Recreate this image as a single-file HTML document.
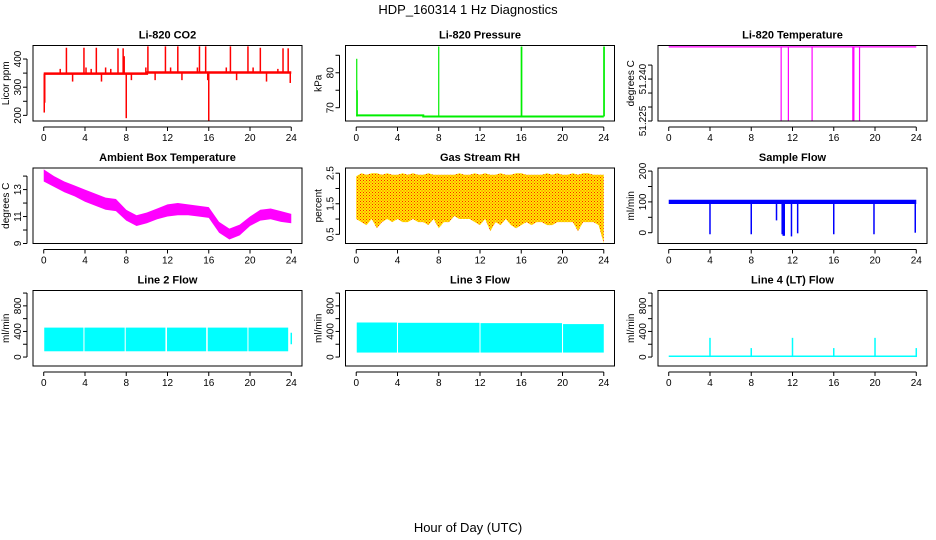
<!DOCTYPE html>
<html><head><meta charset="utf-8"><style>
html,body{margin:0;padding:0;background:#fff;}
svg{display:block;font-family:"Liberation Sans",Arial,sans-serif;}
</style></head><body>
<svg id="chart" width="936" height="540" viewBox="0 0 936 540">
<defs>
<pattern id="rhpat" width="3" height="3" patternUnits="userSpaceOnUse">
<rect width="3" height="3" fill="#ffe800"/><rect width="1" height="1" fill="#ff2000"/><rect x="1.5" y="1.5" width="1" height="1" fill="#ff4000"/>
</pattern>
</defs>
<text x="468" y="14" text-anchor="middle" font-size="13">HDP_160314  1 Hz Diagnostics</text>
<text x="468" y="532" text-anchor="middle" font-size="13">Hour of Day (UTC)</text>
</svg>
<script>
// ---- data ----
const xTicks = [0,4,8,12,16,20,24];
const co2BaseHours = [0,10,10,24];
const co2BaseValues = [348,348,352,352];
const co2SpikeHours = [0.05,0.1,1.6,2.2,2.8,3.9,4.1,4.6,5.1,5.6,6,6.5,7.2,7.7,7.8,8,8.5,9.9,10.1,10.8,11.8,12.3,13,13.4,14.9,15.1,15.7,15.9,16,16.5,17.7,18.1,18.7,19.8,20.3,21,21.6,22.7,23.2,23.7,23.9];
const co2SpikeValues = [210,245,365,440,320,440,370,365,440,320,370,365,438,438,410,190,325,370,445,325,445,370,445,325,370,445,445,325,180,350,370,445,325,445,370,440,320,365,438,438,315];
const presBaseHours = [0,6.5,6.5,24];
const presBaseValues = [67.8,67.8,67.5,67.5];
const presSpikeHours = [0.05,0.1,8,16,16.05,24,24.05];
const presSpikeValues = [84,75,87.5,87.5,87.5,87.5,87.5];
const tempLevel = 51.2515;
const tempDropHours = [10.9,11.6,13.9,17.85,17.95,18.5];
const tempDropValues = [51.225,51.225,51.225,51.225,51.225,51.225];
const ambHours = [0,1,2,3,4,5,6,7,8,9,10,11,12,13,14,15,16,17,18,19,20,21,22,23,24];
const ambLo = [13.6,13.2,12.8,12.5,12.1,11.8,11.5,11.4,10.7,10.3,10.5,10.8,11.0,11.1,11.1,11.0,10.9,9.8,9.3,9.6,10.3,10.7,10.8,10.6,10.5];
const ambHi = [14.5,14.0,13.6,13.3,13.0,12.7,12.4,12.3,11.5,11.1,11.3,11.6,11.9,12.0,11.9,11.8,11.7,10.6,10.1,10.4,11.0,11.5,11.6,11.4,11.2];
const rhHours = [0,0.5,1,1.5,2,2.5,3,3.5,4,4.5,5,5.5,6,6.5,7,7.5,8,8.5,9,9.5,10,10.5,11,11.5,12,12.5,13,13.5,14,14.5,15,15.5,16,16.5,17,17.5,18,18.5,19,19.5,20,20.5,21,21.5,22,22.5,23,23.5,24];
const rhLo = [1.0,0.9,0.8,1.0,0.7,0.9,1.0,0.9,1.0,0.9,0.9,1.0,0.9,0.9,0.8,1.0,0.7,0.9,0.9,1.1,1.0,1.0,1.0,0.9,0.8,1.0,0.6,0.9,0.8,1.0,0.8,0.7,0.8,0.9,0.8,0.9,0.9,0.8,0.8,0.9,0.9,0.9,0.9,0.6,0.9,0.9,0.9,0.8,0.2];
const rhHi = [2.4,2.5,2.45,2.5,2.5,2.45,2.5,2.45,2.45,2.5,2.45,2.5,2.45,2.45,2.5,2.45,2.45,2.45,2.45,2.45,2.5,2.45,2.45,2.5,2.45,2.5,2.45,2.45,2.5,2.45,2.45,2.5,2.5,2.45,2.45,2.45,2.45,2.5,2.45,2.5,2.45,2.45,2.5,2.45,2.5,2.5,2.45,2.45,2.45];
const sampleBaseLo = 93;
const sampleBaseHi = 107;
const sampleDipHours = [4,8,10.45,11,11.1,11.2,11.9,12.5,16,19.9,23.9];
const sampleDipValues = [-5,-5,40,-5,-10,-10,-12,-2,-5,-5,0];
const line2Starts = [0.05,3.95,7.95,11.95,15.9,19.85];
const line2Ends = [3.85,7.85,11.8,15.75,19.75,23.7];
const line2Lo = [90,90,90,90,90,90];
const line2Hi = [460,460,460,460,460,460];
const line3Starts = [0.05,4.05,12.05,20.05];
const line3Ends = [3.95,11.95,19.95,24];
const line3Lo = [70,70,70,70];
const line3Hi = [540,535,530,515];
const line4SpikeHours = [4,8,12,16,20,24];
const line4SpikeValues = [300,140,300,140,300,140];

// ---- layout ----
const svg = document.getElementById('chart');
const NS = 'http://www.w3.org/2000/svg';
function mk(tag, attrs, parent){ const e=document.createElementNS(NS,tag); for(const k in attrs) e.setAttribute(k,attrs[k]); (parent||svg).appendChild(e); return e; }
function panel(col,row,title,ylab,ymin,ymax,ticks,labeled){
  const L = 33 + col*312.5, T = 45.5 + row*122.5, W = 269, H = 75.5;
  const g = mk('g',{});
  
  
  const xs = h => L + (h + 1.04) / 26.08 * W;
  const ys = v => T + H - (v - ymin) / (ymax - ymin) * H;
  const t = mk('text',{x:L+W/2,y:T-7,'text-anchor':'middle','font-size':'11','font-weight':'bold'},g);
  t.textContent = title;
  
  
  const yl = mk('text',{transform:`translate(${L-24},${T+H/2}) rotate(-90)`,'text-anchor':'middle','font-size':'10'},g);
  yl.textContent = ylab;
  
  
  const marks = mk('g',{},g);
  
  
  const ax = mk('g',{stroke:'#000','stroke-width':'1',fill:'none'},g);
  
  
  mk('rect',{x:L,y:T,width:W,height:H},ax);
  mk('line',{x1:xs(0),x2:xs(24),y1:T+H+6,y2:T+H+6},ax);
  xTicks.forEach(h=>{
    mk('line',{x1:xs(h),x2:xs(h),y1:T+H+6,y2:T+H+10},ax);
    const tl = mk('text',{x:xs(h),y:T+H+20,'text-anchor':'middle','font-size':'10',fill:'#000',stroke:'none'},g);
    tl.textContent = h;
    
    
  });
  mk('line',{x1:L-6,x2:L-6,y1:ys(ticks[0]),y2:ys(ticks[ticks.length-1])},ax);
  ticks.forEach(v=>{
    mk('line',{x1:L-10,x2:L-6,y1:ys(v),y2:ys(v)},ax);
  });
  labeled.forEach(v=>{
    const tl = mk('text',{transform:`translate(${L-12},${ys(v)}) rotate(-90)`,'text-anchor':'middle','font-size':'10'},g);
    tl.textContent = v;
    
    
  });
  return {xs,ys,marks,T,H};
}
function vline(p,h,v1,v2,color,w){
  const l = mk('line',{x1:p.xs(h),x2:p.xs(h),y1:p.ys(v1),y2:p.ys(v2),stroke:color,'stroke-width':w||1.5},p.marks);
  
  
}
function pline(p,hs,vs,color,w){
  const pts = hs.map((h,i)=>p.xs(h)+','+p.ys(vs[i])).join(' ');
  const l = mk('polyline',{points:pts,fill:'none',stroke:color,'stroke-width':w||2},p.marks);
  
  
}
function band(p,hs,lo,hi,fill){
  const pts = hs.map((h,i)=>p.xs(h)+','+p.ys(hi[i])).concat(hs.slice().reverse().map((h,j)=>p.xs(h)+','+p.ys(lo[hs.length-1-j]))).join(' ');
  const b = mk('polygon',{points:pts,fill:fill},p.marks);
  
  
}
function rects(p,st,en,lo,hi,fill){
  st.forEach((s,i)=>{
    const r = mk('rect',{x:p.xs(s),y:p.ys(hi[i]),width:p.xs(en[i])-p.xs(s),height:p.ys(lo[i])-p.ys(hi[i]),fill:fill},p.marks);
    
    
  });
}

// CO2
let p = panel(0,0,'Li-820 CO2','Licor ppm',180,448,[200,250,300,350,400],[200,300,400]);
pline(p,co2BaseHours,co2BaseValues,'#ff0000',2.5);
co2SpikeHours.forEach((h,i)=>vline(p,h,co2BaseValues[h<10?0:3],co2SpikeValues[i],'#ff0000',1.5));
// Pressure
p = panel(1,0,'Li-820 Pressure','kPa',66.2,87.8,[70,75,80,85],[70,80]);
pline(p,presBaseHours,presBaseValues,'#00ee00',2);
presSpikeHours.forEach((h,i)=>vline(p,h,67.5,presSpikeValues[i],'#00ee00',1.2));
// Temperature
p = panel(2,0,'Li-820 Temperature','degrees C',51.225,51.252,[51.225,51.230,51.235,51.240,51.245],['51.225','51.240']);
pline(p,[0,24],[tempLevel,tempLevel],'#ff00ff',1.2);
tempDropHours.forEach((h,i)=>vline(p,h,tempLevel,tempDropValues[i],'#ff00ff',1.2));
// Ambient
p = panel(0,1,'Ambient Box Temperature','degrees C',9,14.6,[9,10,11,12,13,14],[9,11,13]);
band(p,ambHours,ambLo,ambHi,'#ff00ff');
// RH
p = panel(1,1,'Gas Stream RH','percent',0.2,2.67,[0.5,1,1.5,2,2.5],['0.5','1.5','2.5']);
band(p,rhHours,rhLo,rhHi,'url(#rhpat)');
// Sample flow
p = panel(2,1,'Sample Flow','ml/min',-35,210,[0,50,100,150,200],[0,100,200]);
band(p,[0,24],[sampleBaseLo,sampleBaseLo],[sampleBaseHi,sampleBaseHi],'#0000ff');
sampleDipHours.forEach((h,i)=>vline(p,h,100,sampleDipValues[i],'#0000ff',1.5));
// Line 2
p = panel(0,2,'Line 2 Flow','ml/min',-140,1040,[0,200,400,600,800,1000],[0,400,800]);
rects(p,line2Starts,line2Ends,line2Lo,line2Hi,'#00ffff');
vline(p,24,200,380,'#00ffff',1.5);
// Line 3
p = panel(1,2,'Line 3 Flow','ml/min',-140,1040,[0,200,400,600,800,1000],[0,400,800]);
rects(p,line3Starts,line3Ends,line3Lo,line3Hi,'#00ffff');
// Line 4
p = panel(2,2,'Line 4 (LT) Flow','ml/min',-140,1040,[0,200,400,600,800,1000],[0,400,800]);
band(p,[0,24],[0,0],[25,25],'#00ffff');
line4SpikeHours.forEach((h,i)=>vline(p,h,0,line4SpikeValues[i],'#00ffff',1.5));
</script>
</body></html>
